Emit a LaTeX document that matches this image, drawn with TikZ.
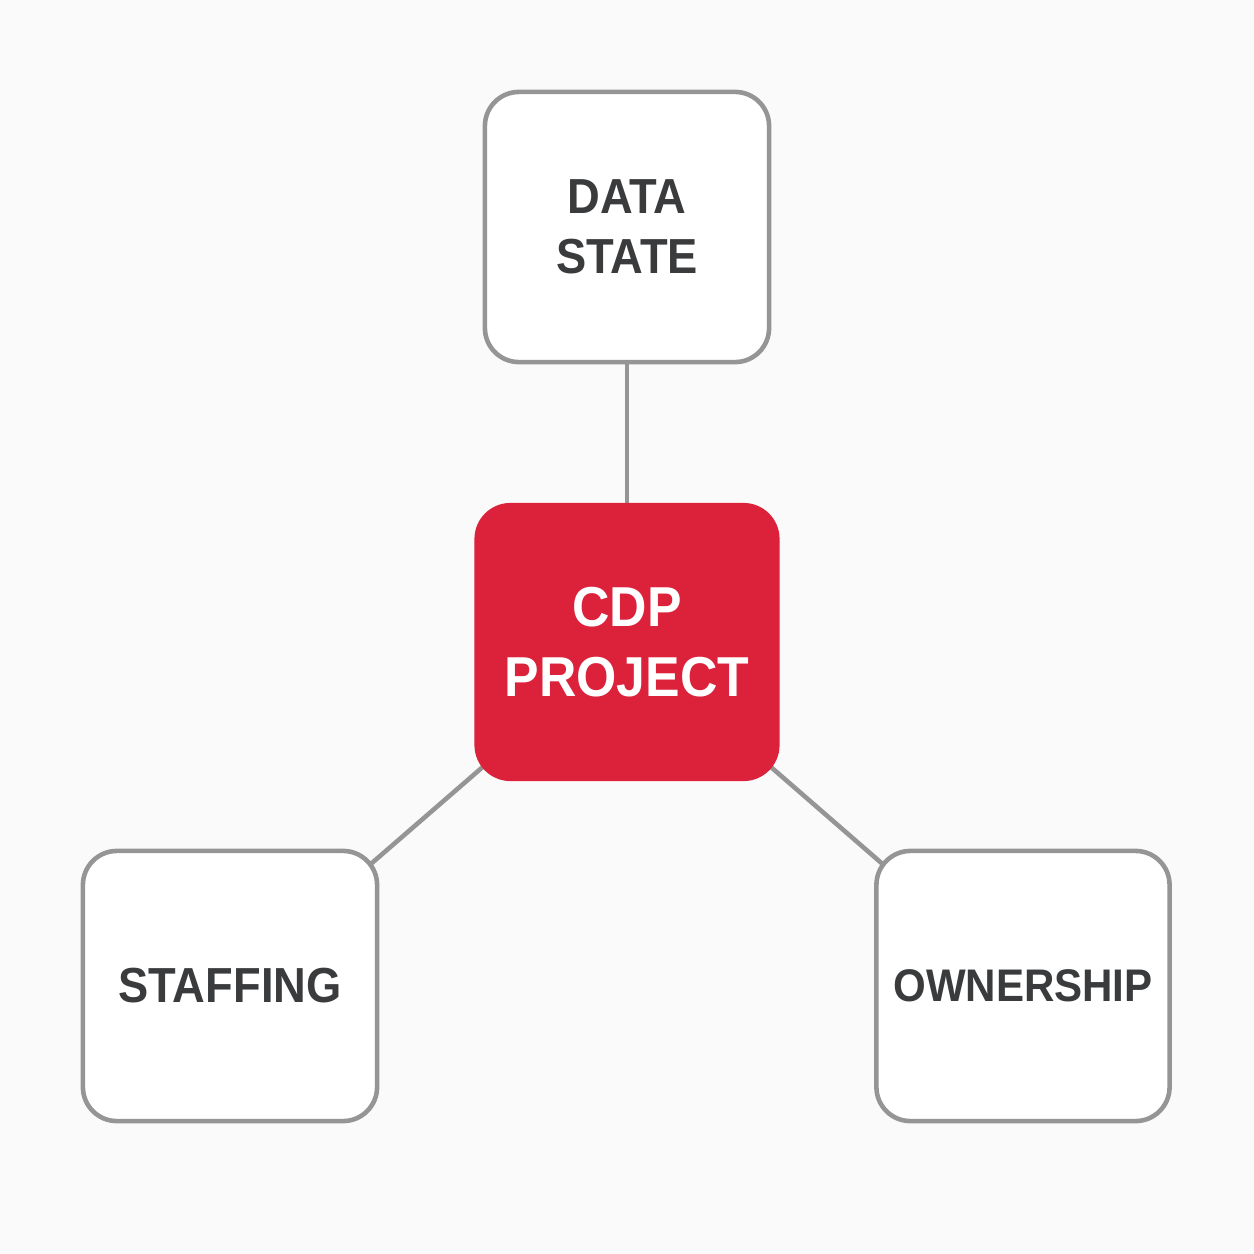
\documentclass[tikz,border=0pt]{standalone}
\usepackage{fontspec}
\setmainfont{Liberation Sans}[FakeStretch=0.92]
\usetikzlibrary{backgrounds}
\definecolor{cdpred}{HTML}{DC213B}
\definecolor{boxgrey}{HTML}{959595}
\definecolor{labelgrey}{HTML}{3A3B3D}
\definecolor{pagegrey}{HTML}{FAFAFA}
\tikzset{
  topicbox/.style={draw=boxgrey, line width=1.3pt, fill=white, rounded corners=0.34cm,
    text=labelgrey, font=\bfseries\fontsize{14}{17}\selectfont, align=center,
    minimum width=2.84cm, minimum height=2.7cm, inner sep=0pt},
  corebox/.style={fill=cdpred, rounded corners=0.36cm, text=white,
    font=\bfseries\fontsize{16}{20}\selectfont, align=center,
    minimum width=3.05cm, minimum height=2.78cm, inner sep=0pt},
  link/.style={draw=boxgrey, line width=1.3pt}
}
\begin{document}
\begin{tikzpicture}[x=0.01cm, y=-0.01cm]
%% page area, same size as the reference
    \useasboundingbox (0,0) rectangle (1254,1254);
%% the centre and the three topics around it
    \node[corebox] (cdp) at (627,642) {CDP\\PROJECT};
    \node[topicbox] (datastate) at (627,227) {DATA\\STATE};
    \node[topicbox, minimum width=2.94cm] (staffing) at (230,986) {STAFFING};
    \node[topicbox, minimum width=2.93cm, font=\bfseries\fontsize{13}{17}\selectfont] (ownership) at (1023,986) {OWNERSHIP};
%% connectors go behind the boxes, from centre to centre
    \begin{scope}[on background layer]
    \fill[pagegrey] (0,0) rectangle (1254,1254);
    \draw[link] (cdp.center) -- (datastate.center);
    \draw[link] (cdp.center) -- (staffing.center);
    \draw[link] (cdp.center) -- (ownership.center);
    \end{scope}
\end{tikzpicture}
\end{document}
